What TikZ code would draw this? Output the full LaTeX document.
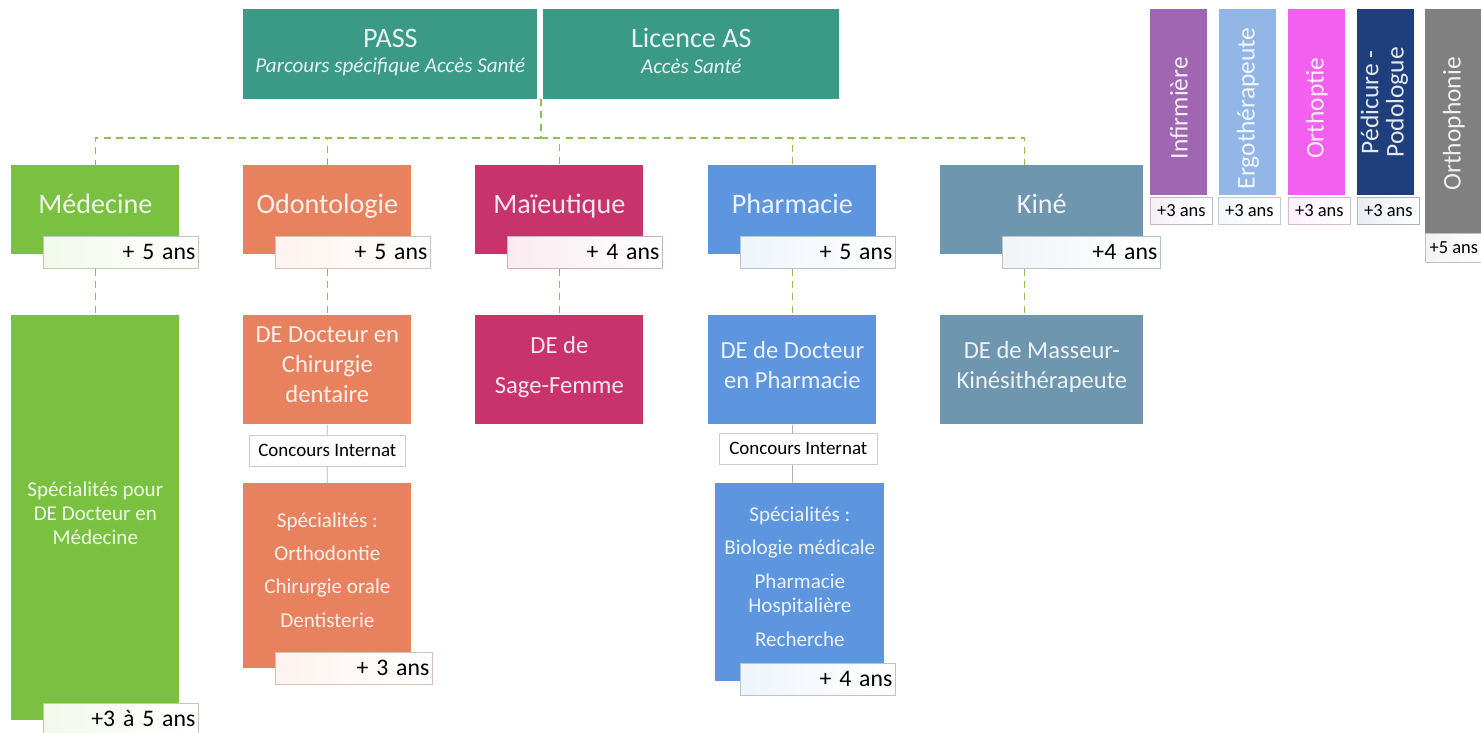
\documentclass[tikz,border=0pt]{standalone}
\usepackage{fontspec}
\setmainfont{Carlito}
\definecolor{passc}{HTML}{3A9A86}
\definecolor{medc}{HTML}{7AC142}
\definecolor{odoc}{HTML}{E8825E}
\definecolor{maic}{HTML}{C7336A}
\definecolor{phac}{HTML}{5D95DE}
\definecolor{kinc}{HTML}{6F96AF}
\definecolor{infc}{HTML}{A066B2}
\definecolor{ergc}{HTML}{92B6E6}
\definecolor{orpc}{HTML}{F360F0}
\definecolor{pedc}{HTML}{1F3F7C}
\definecolor{orhc}{HTML}{808080}
\definecolor{linkc}{HTML}{8CC152}
\begin{document}
\begin{tikzpicture}[x=0.02cm,y=-0.02cm,
  lift/.style={execute at end node={\rule[-#1]{0pt}{0pt}}},
  box/.style={fill=#1,text=white!88!#1,anchor=north west,inner sep=0pt,align=center,minimum width=3.36cm},
  head/.style={minimum height=1.78cm,font=\fontsize{16}{19}\selectfont,lift=0.24cm},
  degree/.style={minimum height=2.18cm,font=\fontsize{14}{17}\selectfont,lift=0.2cm},
  spec/.style={font=\fontsize{12}{14}\selectfont,lift=0.24cm},
  tag/.style={draw=#1!35!gray!50,left color=#1!10,right color=white,text=black,anchor=north west,inner ysep=0pt,inner xsep=0.06cm,align=right,text width=2.98cm,minimum height=0.64cm,font=\fontsize{13.5}{16}\selectfont},
  exam/.style={draw=gray!40,fill=white,text=black,anchor=north west,inner sep=0pt,minimum width=3.12cm,minimum height=0.62cm,font=\fontsize{10.8}{13}\selectfont},
  vbox/.style={fill=#1,text=white!88!#1,anchor=north west,inner sep=0pt,minimum width=1.14cm,minimum height=3.72cm,font=\fontsize{14.5}{14}\selectfont},
  stag/.style={draw=#1!35!gray!50,left color=#1!10,right color=white,text=black,anchor=north west,inner sep=0pt,minimum width=1.24cm,minimum height=0.54cm,font=\fontsize{10.5}{12}\selectfont},
  link/.style={draw=linkc,line width=0.8pt,dash pattern=on 4pt off 3pt},
  tick/.style={draw=gray!60,line width=0.4pt}]
\useasboundingbox (0,0) rectangle (1481,733);

\node[box=passc,minimum width=5.88cm,minimum height=1.8cm,font=\fontsize{12}{14.5}\selectfont,lift=0.14cm] (pass) at (243,9) {{\fontsize{16}{19}\selectfont PASS}\\\textit{Parcours spécifique Accès Santé}};
\node[box=passc,minimum width=5.92cm,minimum height=1.8cm,font=\fontsize{12}{14.5}\selectfont,lift=0.14cm] (las) at (543,9) {{\fontsize{16}{19}\selectfont Licence AS}\\\textit{Accès Santé}};

\node[box=medc,head] (med) at (11,165) {Médecine};
\node[tag=medc] (medtag) at (43,236) {+ 5 ans};
\node[box=odoc,head] (odo) at (243,165) {Odontologie};
\node[tag=odoc] (odotag) at (275,236) {+ 5 ans};
\node[box=maic,head] (mai) at (475,165) {Maïeutique};
\node[tag=maic] (maitag) at (507,236) {+ 4 ans};
\node[box=phac,head] (pha) at (708,165) {Pharmacie};
\node[tag=phac] (phatag) at (740,236) {+ 5 ans};
\node[box=kinc,head,minimum width=4.06cm] (kin) at (940,165) {Kiné};
\node[tag=kinc,text width=3.04cm] (kintag) at (1002,236) {+4 ans};

\node[box=medc,minimum height=8.1cm,font=\fontsize{12}{13.6}\selectfont,lift=0.2cm] (medspec) at (11,315) {Spécialités pour\\DE Docteur en\\Médecine};
\node[tag=medc,minimum height=0.6cm] (medspectag) at (43,703) {+3 à 5 ans};
\node[box=odoc,degree] (odode) at (243,315) {DE Docteur en\\Chirurgie\\dentaire};
\node[exam] (odoexam) at (249,435) {Concours Internat};
\node[box=odoc,spec,minimum height=3.7cm] (odospec) at (243,483) {Spécialités :\\[5pt]Orthodontie\\[5pt]Chirurgie orale\\[5pt]Dentisterie};
\node[tag=odoc,text width=3.02cm] (odospectag) at (275,652) {+ 3 ans};
\node[box=maic,degree] (maide) at (475,315) {DE de\\[6pt]Sage-Femme};
\node[box=phac,degree] (phade) at (708,315) {DE de Docteur\\en Pharmacie};
\node[exam,minimum width=3.16cm] (phaexam) at (719,433) {Concours Internat};
\node[box=phac,spec,minimum width=3.38cm,minimum height=3.96cm] (phaspec) at (715,483) {Spécialités :\\[5pt]Biologie médicale\\[5pt]Pharmacie\\Hospitalière\\[5pt]Recherche};
\node[tag=phac] (phaspectag) at (740,663) {+ 4 ans};
\node[box=kinc,degree,minimum width=4.06cm] (kinde) at (940,315) {DE de Masseur-\\Kinésithérapeute};

\node[vbox=infc] (inf) at (1150,9) {\rotatebox{90}{Infirmière\kern0.24cm}};
\node[stag=infc] (inftag) at (1150,197) {+3 ans};
\node[vbox=ergc] (erg) at (1219,9) {\rotatebox{90}{Ergothérapeute\kern0.24cm}};
\node[stag=ergc] (ergtag) at (1218,197) {+3 ans};
\node[vbox=orpc] (orp) at (1288,9) {\rotatebox{90}{Orthoptie\kern0.24cm}};
\node[stag=orpc] (orptag) at (1288,197) {+3 ans};
\node[vbox=pedc] (ped) at (1357,9) {\rotatebox{90}{\begin{tabular}{@{}c@{}}Pédicure -\\Podologue\end{tabular}}};
\node[stag=pedc] (pedtag) at (1357,197) {+3 ans};
\node[vbox=orhc,minimum height=4.48cm] (orh) at (1425,9) {\rotatebox{90}{Orthophonie\kern0.1cm}};
\node[stag=orhc,minimum width=1.14cm,minimum height=0.58cm] (orhtag) at (1425,233) {+5 ans};

\coordinate (top) at (541,99);
\coordinate (bus) at (541,138);
\draw[link] (top) -- (bus);
\foreach \n in {med,odo,mai,pha}
  \draw[link] (bus) -| (\n.north);
\draw[link] (bus) -| ([xshift=-0.35cm]kin.north);
\draw[link] (med.south |- medtag.south) -- (medspec.north);
\draw[link] (odo.south |- odotag.south) -- (odode.north);
\draw[link] (mai.south |- maitag.south) -- (maide.north);
\draw[link] (pha.south |- phatag.south) -- (phade.north);
\draw[link] ([xshift=-0.35cm]kin.south |- kintag.south) -- ([xshift=-0.35cm]kinde.north);
\draw[tick] (odode.south) -- (odoexam.north);
\draw[tick] (odoexam.south) -- (odospec.north);
\draw[tick] (phade.south) -- (phade.south |- phaexam.north);
\draw[tick] (phade.south |- phaexam.south) -- (phade.south |- phaspec.north);
\end{tikzpicture}
\end{document}
